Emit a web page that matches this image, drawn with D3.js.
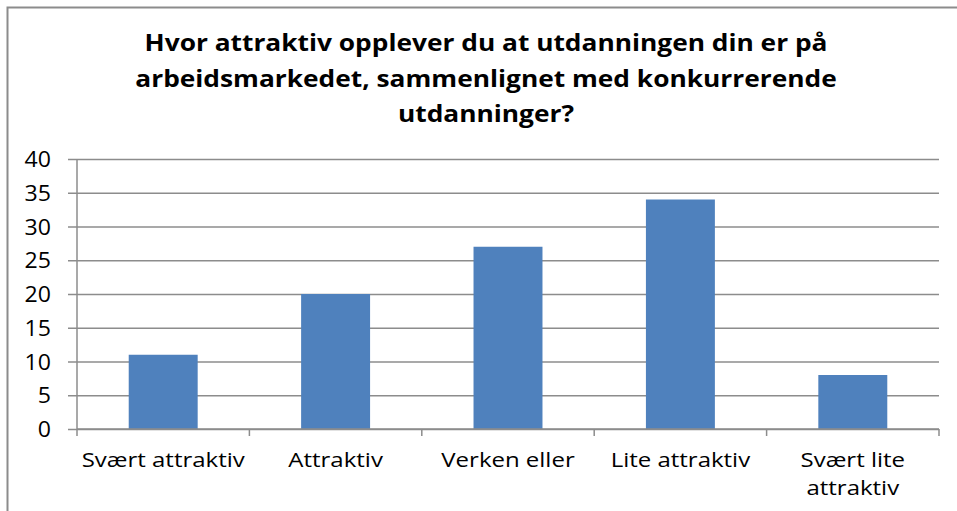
<!DOCTYPE html>
<html>
<head>
<meta charset="utf-8">
<script src="https://cdn.jsdelivr.net/npm/d3@7"></script>
<style>
  body { margin: 0; background: #fff; }
  svg { display: block; font-family: "Open Sans", sans-serif; }
</style>
</head>
<body>
<svg id="chart" width="957" height="511"></svg>
<script>
"use strict";

var categories = ["Svært attraktiv", "Attraktiv", "Verken eller", "Lite attraktiv", "Svært lite attraktiv"];
var values = [11, 20, 27, 34, 8];
var yTicks = [0, 5, 10, 15, 20, 25, 30, 35, 40];
var titleLines = [
  "Hvor attraktiv opplever du at utdanningen din er på",
  "arbeidsmarkedet, sammenlignet med konkurrerende",
  "utdanninger?"
];

var svg = d3.select("#chart");
var plotLeft = 77, plotRight = 939, plotTop = 159, plotBottom = 429;
var stretch = 1.17; // the source picture is a bit wider than tall

// outer frame (right/bottom run off the picture)
svg.append("rect")
  .attr("x", 7.5).attr("y", 7.5)
  .attr("width", 960).attr("height", 520)
  .attr("fill", "none")
  .attr("stroke", "#8c8c8c")
  .attr("stroke-width", 2);

svg.append("g")
  .selectAll("text")
  .data(titleLines)
  .enter()
  .append("text")
  .attr("transform", (d, i) => `translate(486,${51 + i * 35.5}) scale(${stretch},1)`)
  .attr("text-anchor", "middle")
  .attr("font-size", 22.5)
  .attr("font-weight", "bold")
  .attr("fill", "#000")
  .text((d) => d);

var x = d3.scaleBand().domain(categories).range([plotLeft, plotRight]).paddingInner(0.6).paddingOuter(0.3);
var xs = d3.scaleBand().domain(categories).range([plotLeft, plotRight]);
var y = d3.scaleLinear().domain([0, 40]).range([plotBottom, plotTop]);

// gridlines + y axis
var yAxis = svg.append("g")
  .attr("transform", `translate(${plotLeft},0)`)
  .call(d3.axisLeft(y).tickValues(yTicks).tickSizeInner(-(plotRight - plotLeft)).tickSizeOuter(0).tickPadding(0));
yAxis.select(".domain").remove();
yAxis.selectAll(".tick line")
  .attr("x1", -9)
  .attr("stroke", "#8c8c8c")
  .attr("stroke-width", 1.3);
yAxis.selectAll(".tick text")
  .attr("x", 0)
  .attr("dy", "0.36em")
  .attr("transform", `translate(-26,0) scale(1.1,1)`)
  .attr("font-size", 21)
  .attr("font-family", "'Open Sans', sans-serif")
  .attr("fill", "#000");

svg.append("line")
  .attr("x1", plotLeft).attr("x2", plotLeft)
  .attr("y1", plotTop).attr("y2", plotBottom)
  .attr("stroke", "#8c8c8c")
  .attr("stroke-width", 1.5);

// bars
svg.append("g")
  .selectAll("rect")
  .data(values)
  .enter()
  .append("rect")
  .attr("x", (d, i) => x(categories[i]))
  .attr("width", x.bandwidth())
  .attr("y", (d) => y(d))
  .attr("height", (d) => y(0) - y(d))
  .attr("fill", "#4f81bd");

// x axis with tick marks at category boundaries
var bounds = categories.map((c) => xs(c) + xs.bandwidth());
bounds.unshift(plotLeft);
svg.append("line")
  .attr("x1", plotLeft).attr("x2", plotRight)
  .attr("y1", plotBottom).attr("y2", plotBottom)
  .attr("stroke", "#8c8c8c")
  .attr("stroke-width", 1.5);
svg.append("g")
  .selectAll("line")
  .data(bounds)
  .enter()
  .append("line")
  .attr("x1", (d) => d).attr("x2", (d) => d)
  .attr("y1", plotBottom).attr("y2", plotBottom + 7)
  .attr("stroke", "#8c8c8c")
  .attr("stroke-width", 1.5);

// category labels, wrapped like the original
var labelLines = { "Svært lite attraktiv": ["Svært lite", "attraktiv"] };
svg.append("g")
  .selectAll("text")
  .data(categories)
  .enter()
  .append("text")
  .attr("transform", (c) => `translate(${xs(c) + xs.bandwidth() / 2},0) scale(${stretch},1)`)
  .attr("text-anchor", "middle")
  .attr("font-size", 20.5)
  .attr("fill", "#000")
  .each(function (c) {
    var lines = labelLines[c] || [c];
    d3.select(this)
      .selectAll("tspan")
      .data(lines)
      .enter()
      .append("tspan")
      .attr("x", 0)
      .attr("y", (d, i) => 467 + i * 28)
      .text((d) => d);
  });
</script>
</body>
</html>
